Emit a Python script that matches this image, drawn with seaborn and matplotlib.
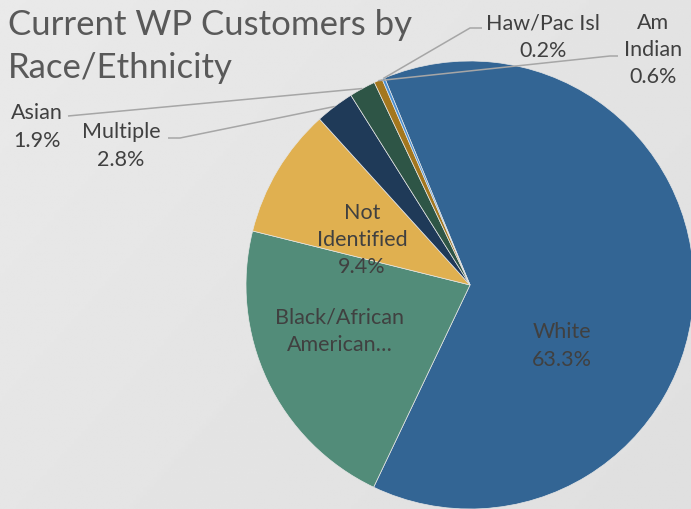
import numpy as np
import matplotlib
matplotlib.use("Agg")
import matplotlib.pyplot as plt
import seaborn as sns

# Customer shares by race/ethnicity (percent)
categories = ["White", "Black/African American", "Not Identified", "Multiple",
              "Asian", "Am Indian", "Haw/Pac Isl"]
shares = [63.3, 21.8, 9.4, 2.8, 1.9, 0.6, 0.2]
display_names = ["White", "Black/African\nAmerican\u2026", "Not\nIdentified", "Multiple",
                 "Asian", "Am\nIndian", "Haw/Pac Isl"]
slice_colors = ["#336594", "#528C79", "#E0B050", "#1F3A58",
                "#2E5546", "#A4771E", "#4A8FD0"]
title = "Current WP Customers by\nRace/Ethnicity"

sns.set_theme(style="white")
plt.rcParams["font.family"] = ["Lato", "DejaVu Sans"]

W, H = 691, 510
fig = plt.figure(figsize=(W / 100, H / 100), dpi=100)

# soft grey backdrop, a little darker toward the lower right
bg = fig.add_axes([0, 0, 1, 1], zorder=0)
gx, gy = np.meshgrid(np.linspace(0, 1, 200), np.linspace(0, 1, 200))
shade = 0.915 - 0.04 * (0.6 * gx + 0.4 * gy)
bg.imshow(shade, extent=[0, 1, 0, 1], cmap="gray", vmin=0, vmax=1,
          aspect="auto", origin="upper")
bg.set_axis_off()

# pie placement in pixels
cx, cy, r = 470, 286, 224
ax = fig.add_axes([(cx - r) / W, (H - cy - r) / H, 2 * r / W, 2 * r / H], zorder=1)
ax.patch.set_alpha(0)
wedges, _ = ax.pie(shares, colors=slice_colors, startangle=112.4,
                   counterclock=False, radius=1,
                   wedgeprops=dict(edgecolor="#e6e6e6", linewidth=0.5))
ax.set_xlim(-1, 1)
ax.set_ylim(-1, 1)
ax.set_axis_off()


def px(x, y):
    return (x - cx) / r, (cy - y) / r


text_col = "#404040"
label_fs = 15.5
spacing = 1.45

# labels inside the larger slices
inside = {0: (562, 346), 1: (340, 331), 2: (362, 240)}
for i, (x, y) in inside.items():
    s = display_names[i]
    if i != 1:
        s = f"{s}\n{shares[i]:.1f}%"
    ax.text(*px(x, y), s, ha="center", va="center", fontsize=label_fs,
            color=text_col, linespacing=spacing)

# outside labels with leader lines: (label centre, line start, elbow)
outside = {
    6: ((543, 37), (482, 29), (470, 29)),
    5: ((653, 50), (618, 57), (610, 57)),
    4: ((37, 127), (68, 117), (68, 117)),
    3: ((121, 146), (168, 139), (180, 139)),
}
for i, (lab, start, elbow) in outside.items():
    w = wedges[i]
    mid = np.deg2rad((w.theta1 + w.theta2) / 2)
    ex, ey = np.cos(mid), np.sin(mid)
    xs = [px(*start)[0], px(*elbow)[0], ex]
    ys = [px(*start)[1], px(*elbow)[1], ey]
    ax.plot(xs, ys, color="#a6a6a6", lw=1.1, clip_on=False, solid_capstyle="butt")
    ax.text(*px(*lab), f"{display_names[i]}\n{shares[i]:.1f}%", ha="center",
            va="center", fontsize=label_fs, color=text_col, linespacing=spacing)

fig.text(8 / W, 1 - 35 / H, "Current WP Customers by", fontsize=25,
         color="#595959", ha="left", va="baseline")
fig.text(8 / W, 1 - 78 / H, "Race/Ethnicity", fontsize=25,
         color="#595959", ha="left", va="baseline")

fig.savefig("out.png", dpi=100)
